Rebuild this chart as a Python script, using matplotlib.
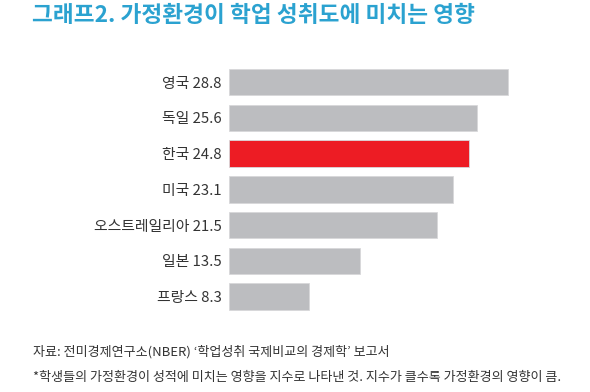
import matplotlib
matplotlib.use("Agg")
import matplotlib.pyplot as plt

plt.rcParams['font.family'] = ['Noto Sans CJK KR', 'DejaVu Sans']

countries = ['영국', '독일', '한국', '미국', '오스트레일리아', '일본', '프랑스']
values = [28.8, 25.6, 24.8, 23.1, 21.5, 13.5, 8.3]
highlight = '한국'
title = '그래프2. 가정환경이 학업 성취도에 미치는 영향'
source = "자료: 전미경제연구소(NBER) ‘학업성취 국제비교의 경제학’ 보고서"
note = '*학생들의 가정환경이 성적에 미치는 영향을 지수로 나타낸 것. 지수가 클수록 가정환경의 영향이 큼.'

W, H = 590, 392
fig = plt.figure(figsize=(W/100, H/100), dpi=100)
ax = fig.add_axes([228.7/W, 1-314.4/H, 290.7/W, (314.4-64.3)/H])

colors = ['#ed1c24' if c == highlight else '#bcbdc0' for c in countries]
ypos = list(range(len(countries)))
ax.barh(ypos, values, height=0.74, color=colors, edgecolor='#d8d8da', linewidth=0.6)
ax.set_xlim(0, 30)
ax.set_ylim(len(countries)-0.5, -0.5)
ax.set_yticks(ypos)
ax.set_yticklabels([f'{c} {v}' for c, v in zip(countries, values)], fontsize=10.7, color='#333333')
ax.tick_params(axis='y', length=0, pad=5)
ax.set_xticks([])
for s in ax.spines.values():
    s.set_visible(False)

fig.text(32/W, 1-16/H, title, fontsize=16.3, fontweight='bold', color='#2ba2d0', va='center', ha='left')
fig.text(33/W, 1-352/H, source, fontsize=9.4, color='#333333', va='center', ha='left')
fig.text(33/W, 1-378/H, note, fontsize=9.4, color='#333333', va='center', ha='left')

fig.savefig('out.png', dpi=100)
